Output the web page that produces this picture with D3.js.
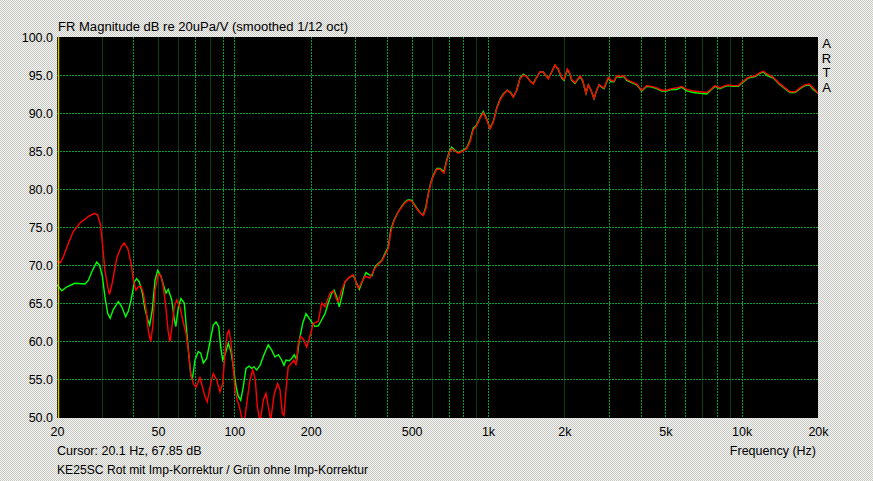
<!DOCTYPE html>
<html>
<head>
<meta charset="utf-8">
<script src="https://cdn.jsdelivr.net/npm/d3@7"></script>
<style>
  body { margin: 0; }
  svg text { font-family: "Liberation Sans", Arial, sans-serif; font-size: 12.5px; fill: #000; }
</style>
</head>
<body>
<div id="chart"></div>
<script>
// Red: with impedance correction, [Hz, dB]
const redCurve = [[20,70.5],[20.6,70.3],[21.2,71.1],[22.2,72.9],[23.2,74.4],[24.6,75.5],[26.6,76.4],[28.1,76.8],[28.9,76.6],[29.6,75.5],[30.2,72.9],[30.9,69.3],[31.7,67.1],[32.2,66.1],[33.0,67.6],[34.4,70.9],[35.8,72.4],[36.8,72.9],[38.0,72.2],[39.2,70.2],[40.0,68.0],[40.9,66.7],[41.8,67.1],[42.9,67.2],[43.8,66.3],[44.9,64.1],[45.8,61.4],[46.8,59.9],[47.7,61.9],[48.7,66.7],[50.2,68.8],[51.4,68.6],[52.5,67.1],[53.7,64.5],[54.9,61.2],[55.8,59.9],[57.0,62.3],[58.0,64.5],[59.3,65.4],[61.1,64.4],[62.9,62.5],[64.5,61.0],[65.9,58.8],[67.3,55.7],[68.9,54.4],[70.6,53.9],[73.2,55.2],[76.6,52.7],[78.2,52.0],[80.7,54.4],[82.6,55.7],[85.2,54.9],[87.8,53.3],[90.0,54.4],[91.9,58.4],[93.8,61.0],[95.3,61.4],[96.8,60.1],[98.5,57.5],[100.6,53.6],[102.7,52.2],[104.6,51.4],[106.9,50.0],[109.2,49.0],[112.7,52.5],[115.3,54.9],[118.2,56.2],[121.0,54.9],[123.2,51.4],[126.3,49.3],[130.1,52.2],[133.3,53.1],[136.1,51.4],[139.1,49.6],[143.8,53.1],[148.3,54.4],[151.4,53.6],[154.6,50.5],[157.0,50.2],[159.9,53.6],[163.2,56.6],[168.4,57.1],[171.9,57.5],[175.1,56.8],[178.8,59.7],[182.7,60.6],[188.2,60.1],[192.9,59.2],[197.5,60.3],[204.8,62.3],[214.4,62.6],[221.1,65.0],[227.8,64.5],[238.4,66.3],[245.6,66.6],[253.3,65.4],[257.1,65.2],[265.1,66.7],[273.2,67.8],[284.1,68.4],[294.6,68.7],[308.2,66.9],[327.5,68.5],[342.7,68.3],[358.7,69.6],[369.6,70.1],[381.1,70.5],[392.7,71.3],[404.7,72.2],[413.6,74.3],[426.0,75.8],[442.9,77.0],[456.8,77.6],[470.7,78.2],[485.0,78.5],[500.2,78.4],[523.4,77.4],[542.7,76.8],[556.0,76.5],[569.7,77.5],[581.7,79.3],[594.5,80.7],[608.7,81.7],[627.8,82.6],[646.9,82.6],[670.8,82.1],[687.4,83.6],[703.8,84.8],[719.3,85.3],[741.2,85.0],[763.7,84.7],[787.6,84.9],[824.2,85.3],[849.2,86.2],[875.1,87.8],[902.5,88.3],[930.1,89.3],[958.4,90.0],[988.4,89.1],[1019,87.9],[1050,88.8],[1083,90.6],[1115,91.7],[1149,92.4],[1192,93.0],[1229,92.6],[1259,92.1],[1298,93.0],[1337,94.5],[1378,95.0],[1421,94.8],[1474,94.1],[1509,93.8],[1556,94.7],[1604,95.4],[1652,95.4],[1704,94.8],[1729,94.5],[1772,95.2],[1837,96.3],[1893,95.8],[1953,94.7],[1994,94.4],[2055,95.8],[2092,95.4],[2138,94.4],[2203,94.0],[2258,94.5],[2306,94.9],[2363,94.3],[2435,92.6],[2486,93.7],[2548,93.0],[2618,91.9],[2683,93.0],[2739,93.7],[2807,93.5],[2867,93.3],[2981,94.7],[3055,94.3],[3139,94.2],[3217,94.9],[3315,94.8],[3437,94.9],[3522,94.4],[3686,94.1],[3857,93.8],[4036,93.0],[4223,93.6],[4419,93.5],[4625,93.3],[4839,93.0],[5064,93.0],[5299,93.2],[5545,93.3],[5802,93.5],[6072,93.1],[6446,92.9],[6851,92.8],[7280,92.7],[7550,93.1],[7850,93.6],[8216,93.3],[8600,93.6],[8862,93.7],[9272,93.6],[9704,93.6],[10154,94.2],[10625,94.7],[11290,94.9],[11814,95.3],[12174,95.5],[12624,95.1],[13330,94.7],[14078,93.9],[14826,93.3],[15514,92.8],[16234,92.8],[16986,93.3],[17774,93.7],[18484,93.8],[19166,93.3],[20000,92.6]];

// Green: without impedance correction, [Hz, dB]
const greenCurve = [[20,67.4],[20.9,66.6],[21.8,67.1],[23.5,67.6],[25.8,67.5],[26.6,68.0],[27.6,69.3],[28.7,70.4],[29.4,70.0],[30.2,68.5],[30.9,65.8],[31.7,63.6],[32.4,63.0],[33.3,64.1],[34.9,65.2],[36.0,64.5],[37.3,63.2],[38.2,63.9],[39.2,65.4],[40.4,67.8],[41.2,68.2],[42.2,67.8],[43.4,66.3],[44.5,64.1],[45.6,62.8],[46.4,62.1],[47.5,64.1],[48.7,68.0],[49.9,69.3],[51.4,68.5],[52.5,67.4],[53.8,66.3],[54.9,66.8],[56.7,65.4],[58.0,62.8],[58.8,61.9],[60.2,64.5],[61.6,65.6],[63.5,65.0],[64.5,62.3],[65.9,58.8],[67.3,55.7],[68.3,54.9],[70.0,57.5],[72.1,58.6],[73.7,58.4],[75.5,57.1],[77.8,57.7],[80.2,59.9],[82.6,62.1],[84.7,62.5],[86.8,61.9],[88.4,59.2],[90.0,57.5],[91.9,58.2],[94.7,59.7],[97.0,58.6],[99.1,56.6],[101.6,54.0],[103.7,52.7],[106.0,52.2],[108.5,54.0],[111.2,56.4],[114.3,56.7],[117.1,56.4],[119.6,56.6],[122.5,56.2],[126.3,56.8],[130.9,58.2],[136.1,59.5],[140.4,58.8],[144.7,57.9],[149.1,58.2],[153.7,57.5],[157.0,56.8],[159.9,57.5],[164.7,57.4],[168.4,57.7],[172.4,58.2],[176.2,57.5],[180.4,60.1],[186.0,62.3],[191.7,63.6],[198.8,62.8],[208.0,61.9],[214.4,62.0],[221.1,62.8],[227.8,63.6],[234.7,65.0],[242.1,66.3],[247.2,66.7],[253.3,65.8],[259.4,64.5],[265.1,65.8],[273.2,67.8],[284.1,68.4],[294.6,68.6],[303.8,67.6],[311.0,66.8],[320.8,68.0],[330.5,69.0],[340.6,68.7],[349.0,68.6],[358.7,69.8],[369.6,70.2],[381.1,70.6],[392.7,71.5],[404.7,72.4],[413.6,74.6],[426.0,75.9],[442.9,77.0],[456.8,77.7],[470.7,78.3],[485.0,78.6],[500.2,78.5],[523.4,77.5],[542.7,76.8],[556.0,76.6],[569.7,77.7],[581.7,79.4],[594.5,80.8],[608.7,81.8],[627.8,82.7],[646.9,82.7],[670.8,82.3],[687.4,83.8],[703.8,84.9],[719.3,85.5],[741.2,85.1],[763.7,84.8],[787.6,85.0],[824.2,85.4],[849.2,86.4],[875.1,88.0],[902.5,88.4],[930.1,89.4],[958.4,90.2],[988.4,89.2],[1019,88.0],[1050,88.9],[1083,90.7],[1115,91.8],[1149,92.5],[1192,93.0],[1229,92.7],[1259,92.1],[1298,93.0],[1337,94.6],[1378,95.1],[1421,94.8],[1474,94.1],[1509,93.9],[1556,94.7],[1604,95.4],[1652,95.4],[1704,94.8],[1729,94.6],[1772,95.2],[1837,96.3],[1893,95.7],[1953,94.6],[1994,94.3],[2055,95.7],[2092,95.3],[2138,94.3],[2203,93.9],[2258,94.4],[2306,94.8],[2363,94.2],[2435,92.6],[2486,93.7],[2548,93.0],[2618,91.9],[2683,93.0],[2739,93.7],[2807,93.4],[2867,93.2],[2981,94.6],[3055,94.1],[3139,94.1],[3217,94.8],[3315,94.7],[3437,94.8],[3522,94.3],[3686,94.0],[3857,93.7],[4036,92.9],[4223,93.5],[4419,93.4],[4625,93.2],[4839,92.9],[5064,92.9],[5299,93.1],[5545,93.1],[5802,93.4],[6072,92.9],[6446,92.7],[6851,92.6],[7280,92.5],[7550,93.0],[7850,93.5],[8216,93.2],[8600,93.5],[8862,93.6],[9272,93.5],[9704,93.5],[10154,94.1],[10625,94.6],[11290,94.8],[11814,95.2],[12174,95.4],[12624,94.9],[13330,94.6],[14078,93.8],[14826,93.2],[15514,92.7],[16234,92.7],[16986,93.2],[17774,93.6],[18484,93.7],[19166,93.1],[20000,92.6]];

const yTicks = [50, 55, 60, 65, 70, 75, 80, 85, 90, 95, 100];
const xTicks = [20, 50, 100, 200, 500, 1000, 2000, 5000, 10000, 20000];
const xTickLabels = ["20", "50", "100", "200", "500", "1k", "2k", "5k", "10k", "20k"];
const gridFreqs = [30, 40, 50, 60, 70, 80, 90, 100, 200, 300, 400, 500, 600, 700, 800, 900,
  1000, 2000, 3000, 4000, 5000, 6000, 7000, 8000, 9000, 10000];
const dimGridFreqs = [30, 50, 60, 80, 600, 900, 2000, 7000, 9000];
const cursorFreq = 20.1;
const cursorDb = 67.85;

const width = 873, height = 481;
const plotLeft = 57, plotRight = 818, plotTop = 37, plotBottom = 417;

const svg = d3
  .select("#chart")
  .append("svg")
  .attr("width", width)
  .attr("height", height);

// Dithered window background
const defs = svg.append("defs");
const pat = defs
  .append("pattern")
  .attr("id", "dither")
  .attr("width", 2)
  .attr("height", 2)
  .attr("patternUnits", "userSpaceOnUse");
pat.append("rect").attr("width", 2).attr("height", 2).attr("fill", "#f5f5f2");
pat.append("rect").attr("width", 1).attr("height", 1).attr("fill", "#c6c6c2");
pat.append("rect").attr("x", 1).attr("y", 1).attr("width", 1).attr("height", 1).attr("fill", "#c6c6c2");
defs
  .append("clipPath")
  .attr("id", "plotClip")
  .append("rect")
  .attr("x", plotLeft)
  .attr("y", plotTop)
  .attr("width", plotRight - plotLeft)
  .attr("height", plotBottom - plotTop + 1);

svg.append("rect").attr("width", width).attr("height", height).attr("fill", "url(#dither)");

// Scales
const x = d3.scaleLog().domain([20, 20000]).range([plotLeft, plotRight]);
const y = d3.scaleLinear().domain([50, 100]).range([plotBottom, plotTop]);
const px = (v) => Math.round(v) + 0.5;

// Plot area
svg
  .append("rect")
  .attr("x", plotLeft)
  .attr("y", plotTop)
  .attr("width", plotRight - plotLeft)
  .attr("height", plotBottom - plotTop + 1)
  .attr("fill", "#000");

// Grid lines
const grid = svg.append("g").attr("clip-path", "url(#plotClip)");
grid
  .selectAll(".vgrid")
  .data(gridFreqs)
  .enter()
  .append("line")
  .attr("class", "vgrid")
  .attr("x1", (d) => px(x(d)))
  .attr("x2", (d) => px(x(d)))
  .attr("y1", plotTop)
  .attr("y2", plotBottom + 1)
  .attr("stroke", (d) => (dimGridFreqs.includes(d) ? "#0b3d12" : "#00a034"))
  .attr("stroke-dasharray", (d) => (dimGridFreqs.includes(d) ? null : "2,1"))
  .attr("shape-rendering", "crispEdges");

grid
  .selectAll(".hgrid")
  .data(yTicks.slice(1, -1))
  .enter()
  .append("line")
  .attr("class", "hgrid")
  .attr("x1", plotLeft)
  .attr("x2", plotRight)
  .attr("y1", (d) => px(y(d)))
  .attr("y2", (d) => px(y(d)))
  .attr("stroke", "#00a034")
  .attr("stroke-dasharray", "2,1")
  .attr("shape-rendering", "crispEdges");

// Curves
const line = d3
  .line()
  .x((d) => x(d[0]))
  .y((d) => y(d[1]));

const curves = svg.append("g").attr("clip-path", "url(#plotClip)");
curves
  .append("path")
  .datum(greenCurve)
  .attr("fill", "none")
  .attr("stroke", "#00ff00")
  .attr("stroke-width", 1.4)
  .attr("d", line);
curves
  .append("path")
  .datum(redCurve)
  .attr("fill", "none")
  .attr("stroke", "#ff0000")
  .attr("stroke-width", 1.4)
  .attr("d", line);

// Cursor
svg
  .append("line")
  .attr("x1", px(x(cursorFreq)))
  .attr("x2", px(x(cursorFreq)))
  .attr("y1", plotTop)
  .attr("y2", plotBottom + 1)
  .attr("stroke", "#d8c400")
  .attr("stroke-width", 1.5);

// Axes
svg
  .append("g")
  .attr("transform", `translate(${plotLeft},0)`)
  .call(d3.axisLeft(y).tickValues(yTicks).tickSize(0).tickPadding(4).tickFormat(d3.format(".1f")))
  .call((g) => g.select(".domain").remove())
  .selectAll("text")
  .attr("font-family", null)
  .attr("font-size", null)
  .attr("fill", "#000");

svg
  .append("g")
  .attr("transform", `translate(0,${plotBottom})`)
  .call(d3.axisBottom(x).tickValues(xTicks).tickSize(0).tickPadding(10).tickFormat((d, i) => xTickLabels[i]))
  .call((g) => g.select(".domain").remove())
  .selectAll("text")
  .attr("font-family", null)
  .attr("font-size", null)
  .attr("fill", "#000");

// Texts
svg
  .append("text")
  .attr("x", 58)
  .attr("y", 31)
  .attr("textLength", 290)
  .attr("lengthAdjust", "spacingAndGlyphs")
  .text("FR Magnitude dB re 20uPa/V (smoothed 1/12 oct)");
svg
  .append("text")
  .attr("x", 57)
  .attr("y", 455)
  .text(`Cursor: ${cursorFreq} Hz, ${cursorDb} dB`);
svg
  .append("text")
  .attr("x", 57)
  .attr("y", 474)
  .attr("textLength", 311)
  .attr("lengthAdjust", "spacingAndGlyphs")
  .text("KE25SC Rot mit Imp-Korrektur / Grün ohne Imp-Korrektur");
svg
  .append("text")
  .attr("x", 816)
  .attr("y", 455)
  .attr("text-anchor", "end")
  .text("Frequency (Hz)");

svg
  .selectAll(".brand")
  .data(["A", "R", "T", "A"])
  .enter()
  .append("text")
  .attr("class", "brand")
  .attr("x", 826.5)
  .attr("y", (d, i) => 48 + i * 14.5)
  .attr("text-anchor", "middle")
  .style("font-size", "13px")
  .text((d) => d);
</script>
</body>
</html>
